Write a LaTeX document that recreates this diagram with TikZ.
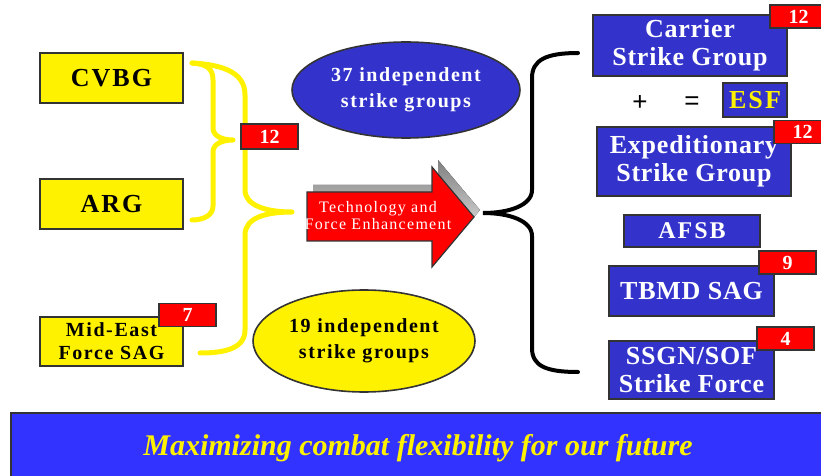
\documentclass[tikz,border=0pt]{standalone}
\usepackage{fontspec}
\setmainfont{Liberation Serif}
\setsansfont{Liberation Sans}
\newfontfamily\spaced[LetterSpace=8.0]{Liberation Serif}
\newfontfamily\tight[LetterSpace=3.0]{Liberation Serif}
\usetikzlibrary{shapes.geometric}
\definecolor{navy}{HTML}{3333CC}
\definecolor{barblue}{HTML}{3333FF}
\definecolor{rim}{HTML}{333333}
\definecolor{shade}{HTML}{808080}
\tikzset{
  yelbox/.style={draw=rim, line width=0.8pt, fill=yellow, align=center, inner sep=0pt,
    font=\spaced\bfseries\fontsize{13}{14}\selectfont},
  bluebox/.style={draw=rim, line width=0.8pt, fill=navy, text=white, align=center, inner sep=0pt,
    font=\tight\bfseries\fontsize{13}{14}\selectfont},
  badge/.style={draw=rim, line width=0.8pt, fill=red, text=white, inner sep=0pt,
    minimum width=28.5pt, minimum height=11.5pt, font=\bfseries\fontsize{10}{10}\selectfont},
  blob/.style={ellipse, draw=rim, line width=0.8pt, align=center, inner sep=0pt,
    font=\spaced\bfseries\fontsize{10}{13}\selectfont},
  ybrace/.style={draw=yellow, line width=2.5pt, line cap=round, line join=round},
  kbrace/.style={draw=black, line width=2pt, line cap=round}
}
\begin{document}
\begin{tikzpicture}[x=0.5pt,y=-0.5pt]
                        \useasboundingbox (0,0) rectangle (821,476);

                        \coordinate (BrA) at (192,63);
                        \coordinate (BrB) at (192,220);
                        \coordinate (BrC) at (200,353);
                        \coordinate (TipS) at (233,140);
                        \coordinate (TipL) at (292,212);
                        \coordinate (BrR) at (578,53);
                        \coordinate (BrS) at (578,372);
                        \coordinate (TipR) at (483,213);

                        \node[yelbox, minimum width=71.5pt, minimum height=25pt] (cvbg) at (111.5,78) {CVBG};
                        \node[yelbox, minimum width=71.5pt, minimum height=25pt] (arg) at (111.5,204) {ARG};
                        \node[yelbox, minimum width=71.5pt, minimum height=24.5pt, font=\spaced\bfseries\fontsize{10}{11.5}\selectfont] (mefs) at (111.5,341.5) {Mid-East\\Force SAG};
                        \node[badge] (nme) at (187.5,315) {7};

                        \draw[ybrace] (BrA) .. controls (206,64) and (213,68) .. (213,80) -- (213,128)
                          .. controls (213,136) and (222,140) .. (TipS)
                          .. controls (222,140) and (213,144) .. (213,152) -- (213,206)
                          .. controls (213,215) and (204,220) .. (BrB);
                        \draw[ybrace] (BrA) .. controls (228,65) and (245,75) .. (245,95) -- (245,190)
                          .. controls (245,205) and (265,212) .. (TipL)
                          .. controls (265,212) and (245,218) .. (245,235) -- (245,330)
                          .. controls (245,348) and (226,353) .. (BrC);
                        \node[badge, minimum height=12.5pt] (ncv) at (269.5,136.5) {12};

                        \node[blob, fill=navy, text=white, minimum width=114pt, minimum height=48pt] (big) at (406,90) {37 independent\\strike groups};
                        \node[blob, fill=yellow, minimum width=111pt, minimum height=51pt] (small) at (364,341) {19 independent\\strike groups};

                        \fill[shade] (313,185) -- (438,185) -- (438,160) -- (480,210) -- (438,260) -- (438,234) -- (313,234) -- cycle;
                        \draw[rim, fill=red, line width=0.6pt] (307,192) -- (432,192) -- (432,167) -- (474,217) -- (432,267) -- (432,241) -- (307,241) -- cycle;
                        \node[text=white, align=center, font=\spaced\fontsize{8}{8.5}\selectfont] (tfe) at (378,216) {Technology and\\Force Enhancement};

                        \draw[kbrace] (BrR) .. controls (546,53) and (532,60) .. (532,78) -- (532,190)
                          .. controls (532,205) and (510,213) .. (TipR)
                          .. controls (510,213) and (532,221) .. (532,236) -- (532,348)
                          .. controls (532,366) and (546,372) .. (BrS);

                        \node[bluebox, minimum width=97pt, minimum height=30.5pt] (csg) at (690,45.5) {Carrier\\Strike Group};
                        \node[badge] (ncsg) at (798.5,16.5) {12};
                        \node[font=\sffamily\fontsize{13}{13}\selectfont] (plus) at (640,103) {+};
                        \node[font=\sffamily\fontsize{13}{13}\selectfont] (eq) at (692,103) {=};
                        \node[bluebox, text=yellow, minimum width=32pt, minimum height=17pt, font=\spaced\bfseries\fontsize{13}{14}\selectfont] (esf) at (755,100) {ESF};
                        \node[bluebox, minimum width=97pt, minimum height=34.5pt] (esg) at (694,161.5) {Expeditionary\\Strike Group};
                        \node[badge] (nesg) at (802.5,132) {12};
                        \node[bluebox, minimum width=68pt, minimum height=16pt, font=\spaced\bfseries\fontsize{12}{12}\selectfont] (afsb) at (692,231) {AFSB};
                        \node[bluebox, minimum width=82.5pt, minimum height=25pt] (tbmd) at (691.5,291) {TBMD SAG};
                        \node[badge] (ntb) at (787.5,262.5) {9};
                        \node[bluebox, minimum width=82.5pt, minimum height=29pt] (ssgn) at (691.5,370) {SSGN/SOF\\Strike Force};
                        \node[badge] (nss) at (785.5,338.5) {4};

                        \draw[rim, fill=barblue, line width=0.8pt] (11,413) rectangle (830,490);
                        \node[text=yellow, font=\bfseries\itshape\fontsize{15}{15}\selectfont] (motto) at (418,448) {Maximizing combat flexibility for our future};
                    \end{tikzpicture}
\end{document}
